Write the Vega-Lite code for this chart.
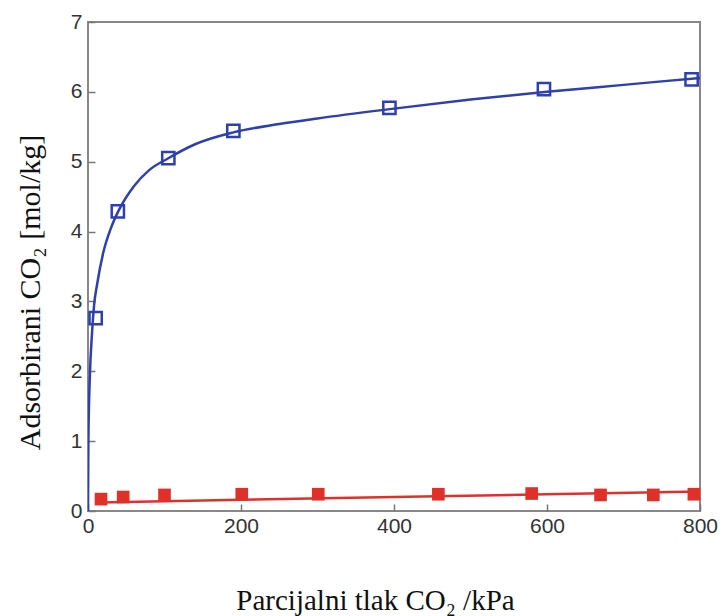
{
  "$schema": "https://vega.github.io/schema/vega-lite/v6.json",
  "autosize": {"type": "none"},
  "padding": {"left": 88, "top": 22, "right": 28, "bottom": 105},
  "width": 612,
  "height": 489,
  "background": "white",
  "config": {
    "view": {"stroke": "#888888", "strokeWidth": 2},
    "axis": {"grid": false, "domain": false, "tickColor": "#777777", "tickSize": -7, "tickWidth": 1.5,
      "labelFont": "Liberation Sans", "labelFontSize": 21, "labelColor": "#333333", "labelFlush": false,
      "titleFont": "Liberation Serif", "titleFontWeight": "normal", "titleColor": "#111111"}
  },
  "datasets": {
    "curve": [
      {"p": 0, "q": 0}, {"p": 0.5, "q": 1.0}, {"p": 2.5, "q": 1.95}, {"p": 5, "q": 2.5}, {"p": 8, "q": 2.95},
      {"p": 12, "q": 3.25}, {"p": 20, "q": 3.7}, {"p": 30, "q": 4.05}, {"p": 40, "q": 4.3}, {"p": 60, "q": 4.65}, {"p": 80, "q": 4.88},
      {"p": 105, "q": 5.05}, {"p": 140, "q": 5.25}, {"p": 190, "q": 5.42}, {"p": 250, "q": 5.54},
      {"p": 300, "q": 5.62}, {"p": 400, "q": 5.76}, {"p": 500, "q": 5.89}, {"p": 600, "q": 6.0},
      {"p": 700, "q": 6.1}, {"p": 800, "q": 6.2}
    ],
    "blue": [
      {"p": 10, "q": 2.76}, {"p": 39, "q": 4.29}, {"p": 105, "q": 5.05}, {"p": 190, "q": 5.44},
      {"p": 394, "q": 5.77}, {"p": 596, "q": 6.04}, {"p": 789, "q": 6.18}
    ],
    "redline": [
      {"p": 16, "q": 0.12}, {"p": 200, "q": 0.16}, {"p": 400, "q": 0.2}, {"p": 600, "q": 0.24}, {"p": 800, "q": 0.28}
    ],
    "red": [
      {"p": 17, "q": 0.17}, {"p": 46, "q": 0.2}, {"p": 100, "q": 0.23}, {"p": 201, "q": 0.24},
      {"p": 301, "q": 0.24}, {"p": 458, "q": 0.24}, {"p": 580, "q": 0.25}, {"p": 670, "q": 0.23},
      {"p": 739, "q": 0.23}, {"p": 792, "q": 0.24}
    ]
  },
  "encoding": {
    "x": {"field": "p", "type": "quantitative", "scale": {"domain": [0, 800], "nice": false},
      "axis": {"values": [0, 200, 400, 600, 800], "title": "Parcijalni tlak CO₂ /kPa", "titleFontSize": 29, "titleX": 287, "titleY": 89, "titleAlign": "center", "titleBaseline": "middle", "labelPadding": 11}},
    "y": {"field": "q", "type": "quantitative", "scale": {"domain": [0, 7], "nice": false},
      "axis": {"values": [0, 1, 2, 3, 4, 5, 6, 7], "title": "Adsorbirani  CO₂  [mol/kg]", "titleFontSize": 30, "titleX": -58, "titleY": 270, "titleAlign": "center", "titleBaseline": "middle", "titleAngle": -90, "labelPadding": 13}}
  },
  "layer": [
    {"data": {"name": "curve"}, "mark": {"type": "line", "color": "#2e3fb0", "strokeWidth": 2.5, "interpolate": "monotone", "clip": true}},
    {"data": {"name": "blue"}, "mark": {"type": "square", "size": 150, "filled": false, "color": "#2e3fb0", "strokeWidth": 2.5, "opacity": 1}},
    {"data": {"name": "redline"}, "mark": {"type": "line", "color": "#e0302a", "strokeWidth": 2.5}},
    {"data": {"name": "red"}, "mark": {"type": "square", "size": 160, "filled": true, "color": "#e0302a", "opacity": 1}}
  ]
}
